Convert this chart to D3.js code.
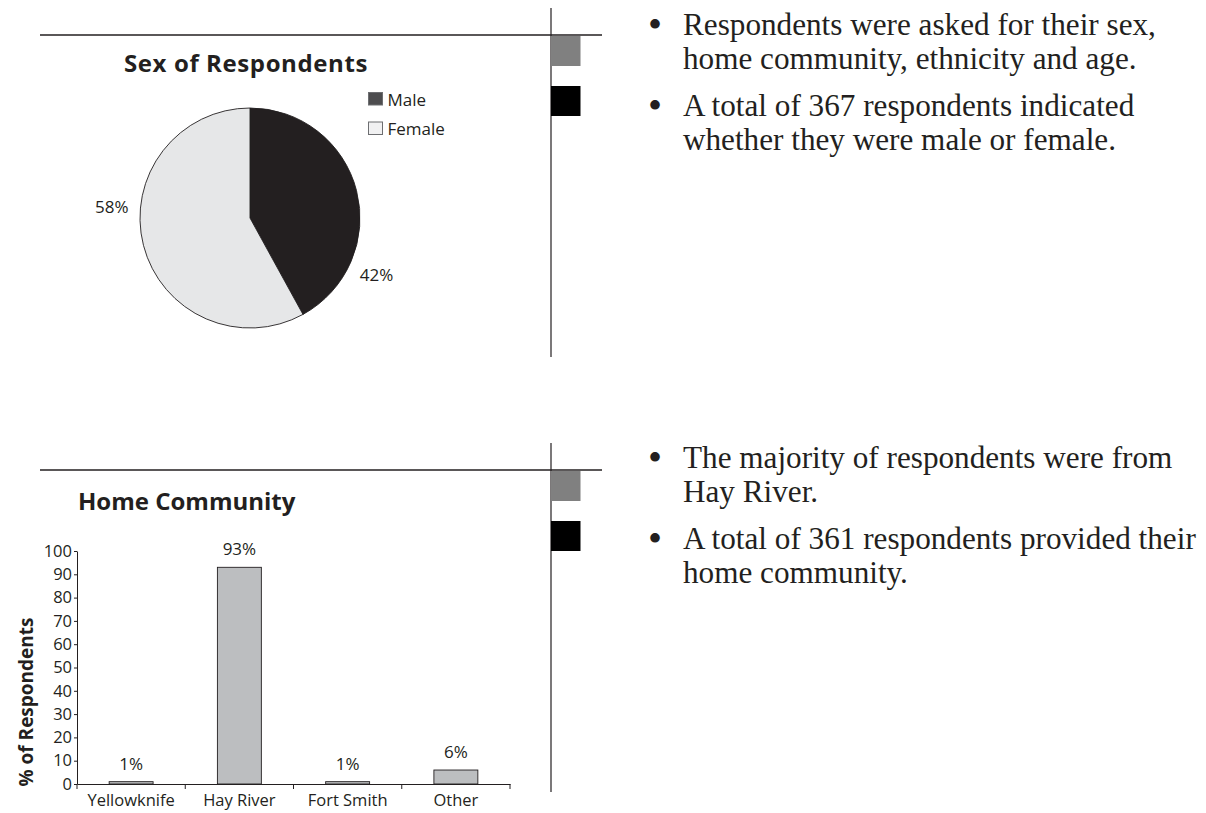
<!DOCTYPE html>
<html>
<head>
<meta charset="utf-8">
<script src="https://cdn.jsdelivr.net/npm/d3@7"></script>
<style>
  html, body { margin: 0; padding: 0; background: #ffffff; }
  svg { display: block; }
  .sans { font-family: "Open Sans", "Noto Sans", sans-serif; fill: #231f20; }
  .serif { font-family: "Liberation Serif", "DejaVu Serif", serif; fill: #231f20; }
</style>
</head>
<body>
<svg id="page" width="1206" height="813"></svg>
<script>
// ---- Sex of respondents ----
const sexCategories = ["Male", "Female"];
const sexValues = [42, 58];
const sexLabels = ["42%", "58%"];

// ---- Home community ----
const communityCategories = ["Yellowknife", "Hay River", "Fort Smith", "Other"];
const communityValues = [1, 93, 1, 6];
const communityLabels = ["1%", "93%", "1%", "6%"];
const percentTicks = [0, 10, 20, 30, 40, 50, 60, 70, 80, 90, 100];

// ---- Commentary beside each chart ----
const sexNotes = [
  ["Respondents were asked for their sex,", "home community, ethnicity and age."],
  ["A total of 367 respondents indicated", "whether they were male or female."]
];
const communityNotes = [
  ["The majority of respondents were from", "Hay River."],
  ["A total of 361 respondents provided their", "home community."]
];

const ink = "#231f20";
const svg = d3.select("#page");

// Section frame: rule across the top, divider, and the two side tabs
function sectionFrame(top) {
  const g = svg.append("g");
  g.append("line").attr("x1", 40).attr("x2", 602).attr("y1", top).attr("y2", top)
    .attr("stroke", ink).attr("stroke-width", 1.3);
  g.append("line").attr("x1", 551).attr("x2", 551).attr("y1", top - 27).attr("y2", top + 322)
    .attr("stroke", ink).attr("stroke-width", 1.2);
  g.append("rect").attr("x", 551).attr("y", top + 1).attr("width", 29.5).attr("height", 30)
    .attr("fill", "#808080");
  g.append("rect").attr("x", 551).attr("y", top + 51).attr("width", 29.5).attr("height", 30)
    .attr("fill", "#000000");
}

function notes(paragraphs, firstBaseline) {
  const g = svg.append("g");
  const lineH = 34, paraGap = 13;
  let y = firstBaseline;
  paragraphs.forEach(lines => {
    g.append("text").attr("class", "serif").attr("x", 648).attr("y", y + 3)
      .attr("font-size", 40).text("\u2022");
    lines.forEach(t => {
      g.append("text").attr("class", "serif").attr("x", 683).attr("y", y)
        .attr("font-size", 31.2).text(t);
      y += lineH;
    });
    y += paraGap;
  });
}

// ===== Top section: pie =====
sectionFrame(35);

svg.append("text").attr("class", "sans").attr("x", 246).attr("y", 72)
  .attr("text-anchor", "middle").attr("font-size", 24).attr("font-weight", 700)
  .attr("letter-spacing", 0.6)
  .text("Sex of Respondents");

const pieCx = 250, pieCy = 218, pieR = 110;
const pieFill = d3.scaleOrdinal().domain(sexCategories).range([ink, "#e6e7e8"]);
const legendFill = d3.scaleOrdinal().domain(sexCategories).range(["#4d4d4f", "#f1f1f2"]);

const arcs = d3.pie().sort(null).value(d => d.value)
  (sexCategories.map((c, i) => ({ cat: c, value: sexValues[i], label: sexLabels[i] })));
const arc = d3.arc().innerRadius(0).outerRadius(pieR);

const pieG = svg.append("g").attr("transform", `translate(${pieCx},${pieCy})`);
pieG.selectAll("path").data(arcs).join("path")
  .attr("d", arc)
  .attr("fill", d => pieFill(d.data.cat))
  .attr("stroke", ink).attr("stroke-width", 0.9);

// Labels sit outside the rim, part-way along each slice
const labelAlong = [0.755, 0.59];
const labelRadius = 1.26 * pieR;
pieG.selectAll("text.pct").data(arcs).join("text")
  .attr("class", "sans pct")
  .attr("font-size", 17)
  .attr("text-anchor", "middle")
  .attr("dy", "0.35em")
  .attr("x", (d, i) => Math.sin(d.startAngle + (d.endAngle - d.startAngle) * labelAlong[i]) * labelRadius)
  .attr("y", (d, i) => -Math.cos(d.startAngle + (d.endAngle - d.startAngle) * labelAlong[i]) * labelRadius)
  .text(d => d.data.label);

const legend = svg.append("g").attr("transform", "translate(368,92)");
sexCategories.forEach((c, i) => {
  const row = legend.append("g").attr("transform", `translate(0,${i * 29.5})`);
  row.append("rect").attr("x", 0.5).attr("y", 0.5).attr("width", 14).attr("height", 12.5)
    .attr("fill", legendFill(c)).attr("stroke", "#6d6e71").attr("stroke-width", 1);
  row.append("text").attr("class", "sans").attr("x", 19.5).attr("y", 13.5)
    .attr("font-size", 17).text(c);
});

notes(sexNotes, 35);

// ===== Bottom section: bars =====
sectionFrame(470);

svg.append("text").attr("class", "sans").attr("x", 78).attr("y", 510)
  .attr("font-size", 24).attr("font-weight", 700)
  .text("Home Community");

const plot = { left: 77, right: 510, top: 551, bottom: 784 };
const x = d3.scaleBand().domain(communityCategories)
  .range([plot.left, plot.right]).paddingInner(0.594).paddingOuter(0.297);
const y = d3.scaleLinear().domain([0, 100]).range([plot.bottom, plot.top]);

const bars = svg.append("g");
bars.selectAll("rect").data(communityCategories).join("rect")
  .attr("x", c => x(c))
  .attr("y", (c, i) => y(communityValues[i]))
  .attr("width", x.bandwidth())
  .attr("height", (c, i) => y(0) - y(communityValues[i]))
  .attr("fill", "#bcbec0").attr("stroke", ink).attr("stroke-width", 0.9);

bars.selectAll("text").data(communityCategories).join("text")
  .attr("class", "sans")
  .attr("font-size", 17).attr("text-anchor", "middle")
  .attr("x", c => x(c) + x.bandwidth() / 2)
  .attr("y", (c, i) => y(communityValues[i]) - 12)
  .text((c, i) => communityLabels[i]);

// y axis
const yAxis = svg.append("g").attr("transform", `translate(${plot.left},0)`)
  .call(d3.axisLeft(y).tickValues(percentTicks).tickSize(3).tickSizeOuter(0).tickPadding(2));
yAxis.select(".domain").attr("stroke", ink).attr("stroke-width", 1);
yAxis.selectAll(".tick line").attr("stroke", ink);
yAxis.selectAll(".tick text").attr("class", "sans").attr("font-size", 16.5)
  .attr("fill", ink).attr("font-family", null);

// x axis: category names under each band, tick marks on the band boundaries
const xAxis = svg.append("g").attr("transform", `translate(0,${plot.bottom})`)
  .call(d3.axisBottom(x).tickSize(0).tickSizeOuter(0).tickPadding(10));
xAxis.select(".domain").attr("stroke", ink).attr("stroke-width", 1);
xAxis.selectAll(".tick text").attr("class", "sans").attr("font-size", 16.5)
  .attr("fill", ink).attr("font-family", null);
const boundaries = communityCategories.map(c => x(c) - x.step() * x.paddingInner() / 2)
  .concat([plot.right]);
xAxis.selectAll("line.boundary").data(boundaries).join("line")
  .attr("class", "boundary")
  .attr("x1", d => d).attr("x2", d => d).attr("y1", 0).attr("y2", 5)
  .attr("stroke", ink);

svg.append("text").attr("class", "sans")
  .attr("transform", "translate(33,702) rotate(-90)")
  .attr("text-anchor", "middle").attr("font-size", 19).attr("font-weight", 700)
  .text("% of Respondents");

notes(communityNotes, 468);
</script>
</body>
</html>
